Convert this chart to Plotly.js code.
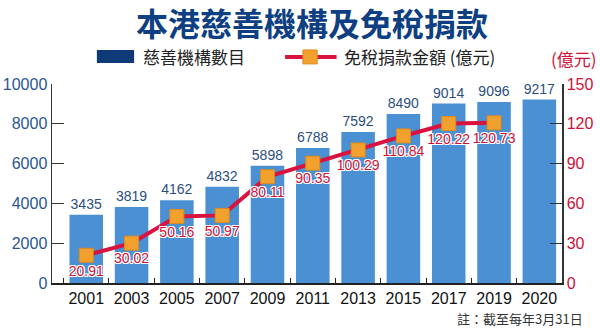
<!DOCTYPE html>
<html>
<head>
<meta charset="utf-8">
<script src="https://cdn.plot.ly/plotly-3.0.1.min.js"></script>
<style>html,body{margin:0;padding:0;background:#fff;}#chart{width:600px;height:329px;}</style>
</head>
<body>
<div id="chart"></div>
<script>
const years = ['2001','2003','2005','2007','2009','2011','2013','2015','2017','2019','2020'];
const charities = [3435, 3819, 4162, 4832, 5898, 6788, 7592, 8490, 9014, 9096, 9217];
const donationYears = ['2001','2003','2005','2007','2009','2011','2013','2015','2017','2019'];
const donations = [20.91, 30.02, 50.16, 50.97, 80.11, 90.35, 100.29, 110.84, 120.22, 120.73];
const leftTicks = [0, 2000, 4000, 6000, 8000, 10000];
const rightTicks = [0, 30, 60, 90, 120, 150];

const numFont = 'Liberation Sans, Arial, sans-serif';
const cjk = 'Noto Sans CJK TC, sans-serif';
const shadow = '-1px -1px 0 #fff, 1px -1px 0 #fff, -1px 1px 0 #fff, 1px 1px 0 #fff, 0 1px 0 #fff, 0 -1px 0 #fff, 1px 0 0 #fff, -1px 0 0 #fff';

const data = [
  {
    type: 'bar', x: years, y: charities, name: '慈善機構數目',
    marker: {color: '#4a90d2'},
    text: charities.map(String), textposition: 'outside',
    textfont: {family: numFont, size: 14, color: '#2b4f80'},
    cliponaxis: false, hoverinfo: 'x+y'
  },
  {
    type: 'scatter', mode: 'lines+markers+text', x: donationYears, y: donations, yaxis: 'y2',
    name: '免稅捐款金額 (億元)',
    line: {color: '#d8143e', width: 4},
    marker: {symbol: 'square', size: 14, color: '#f2a12e', line: {color: '#e08a20', width: 1}},
    text: donations.map(v => v.toFixed(2)), textposition: 'bottom center',
    textfont: {family: numFont, size: 14, color: '#d01038', shadow: shadow},
    cliponaxis: false
  }
];

const layout = {
  width: 600, height: 329,
  margin: {l: 52, r: 38, t: 84, b: 46},
  paper_bgcolor: '#fff', plot_bgcolor: '#fff',
  showlegend: false,
  bargap: 0.26,
  xaxis: {
    type: 'category', showline: true, linecolor: '#222', linewidth: 1.5,
    ticks: 'inside', tickson: 'boundaries', ticklen: 5, tickcolor: '#222',
    tickfont: {family: numFont, size: 16, color: '#111'},
    showgrid: false, zeroline: false
  },
  yaxis: {
    range: [0, 10000], tickvals: leftTicks, ticktext: leftTicks.map(String),
    showline: true, linecolor: '#333', linewidth: 1.5,
    ticks: 'inside', ticklen: 12, tickcolor: '#333',
    tickfont: {family: numFont, size: 16, color: '#2a5695'},
    showgrid: false, zeroline: false
  },
  yaxis2: {
    overlaying: 'y', side: 'right', range: [0, 150], tickvals: rightTicks,
    showline: true, linecolor: '#333', linewidth: 1.5,
    ticks: 'inside', ticklen: 12, tickcolor: '#333',
    tickfont: {family: numFont, size: 16, color: '#d01038'},
    showgrid: false, zeroline: false
  },
  shapes: [
    {type: 'rect', xref: 'paper', yref: 'paper', x0: 0.088, x1: 0.161, y0: 1.106, y1: 1.171,
     fillcolor: '#0f3a78', line: {width: 0}},
    {type: 'line', xref: 'paper', yref: 'paper', x0: 0.457, x1: 0.558, y0: 1.136, y1: 1.136,
     line: {color: '#d8143e', width: 4}},
    {type: 'rect', xref: 'paper', yref: 'paper', x0: 0.492, x1: 0.520, y0: 1.101, y1: 1.171,
     fillcolor: '#f2a12e', line: {color: '#e08a20', width: 1}}
  ],
  annotations: [
    {text: '<b>本港慈善機構及免稅捐款</b>', xref: 'paper', yref: 'paper', x: 0.51, y: 1.312,
     xanchor: 'center', yanchor: 'middle', showarrow: false,
     font: {family: cjk, size: 32, color: '#0e3f82'}},
    {text: '慈善機構數目', xref: 'paper', yref: 'paper', x: 0.174, y: 1.136, xanchor: 'left', yanchor: 'middle',
     showarrow: false, font: {family: cjk, size: 17, color: '#222'}},
    {text: '免稅捐款金額 (億元)', xref: 'paper', yref: 'paper', x: 0.569, y: 1.136, xanchor: 'left', yanchor: 'middle',
     showarrow: false, font: {family: cjk, size: 17, color: '#222'}},
    {text: '(億元)', xref: 'paper', yref: 'paper', x: 1.073, y: 1.13, xanchor: 'right', yanchor: 'middle',
     showarrow: false, font: {family: cjk, size: 17, color: '#d01038'}},
    {text: '註：截至每年3月31日', xref: 'paper', yref: 'paper', x: 1.045, y: -0.18, xanchor: 'right', yanchor: 'middle',
     showarrow: false, font: {family: cjk, size: 13, color: '#333'}}
  ]
};

Plotly.newPlot('chart', data, layout, {displayModeBar: false, staticPlot: true});
</script>
</body>
</html>
